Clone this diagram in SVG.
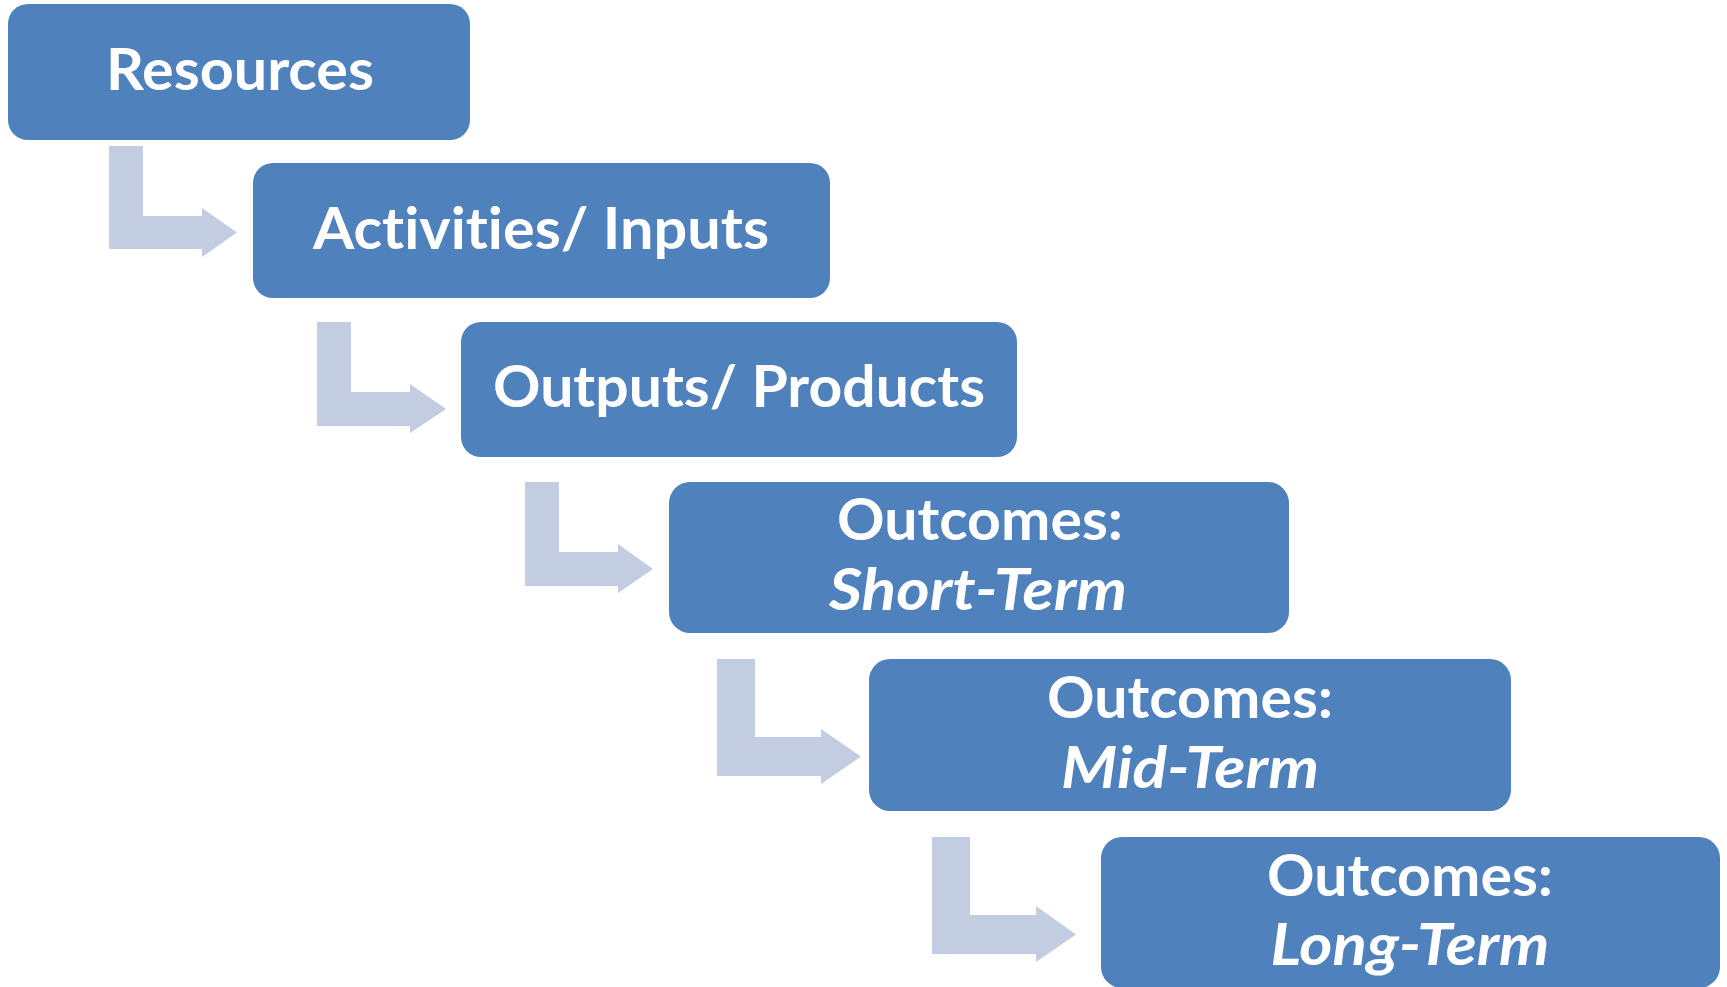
<svg xmlns="http://www.w3.org/2000/svg" width="1727" height="987" viewBox="0 0 1727 987">
<style>
.box{fill:#4F81BD;}
.arrow{fill:#C3CDE1;}
.t{font-family:Lato,"Open Sans","Liberation Sans",sans-serif;font-weight:bold;font-size:57px;fill:#FFFFFF;text-anchor:middle;font-variant-ligatures:none;font-feature-settings:"liga" 0,"clig" 0;}
.i{font-style:italic;}
</style>
<rect width="1727" height="987" fill="#FFFFFF"/>
<g id="connectors">
<polygon class="arrow" points="109,146 143,146 143,216 202,216 202,208 237,232.5 202,257 202,249 109,249"/>
<polygon class="arrow" points="317,322 351,322 351,392 410,392 410,384 446,409 410,433 410,426 317,426"/>
<polygon class="arrow" points="525,482 559,482 559,552 618,552 618,544 653,569 618,593 618,586 525,586"/>
<polygon class="arrow" points="717,659 755,659 755,737 821,737 821,729 861,756.5 821,784 821,776 717,776"/>
<polygon class="arrow" points="932,837 970,837 970,915 1036,915 1036,906 1076,934.5 1036,962 1036,954 932,954"/>
</g>
<g id="resources">
<rect class="box" x="8" y="4" width="462" height="136" rx="20"/>
<text class="t" x="240" y="90" textLength="268" lengthAdjust="spacingAndGlyphs">Resources</text>
</g>
<g id="activities">
<rect class="box" x="253" y="163" width="577" height="135" rx="20"/>
<text class="t" x="541" y="249" textLength="456" lengthAdjust="spacingAndGlyphs">Activities/ Inputs</text>
</g>
<g id="outputs">
<rect class="box" x="461" y="322" width="556" height="135" rx="20"/>
<text class="t" x="739" y="407" textLength="492" lengthAdjust="spacingAndGlyphs">Outputs/ Products</text>
</g>
<g id="short-term">
<rect class="box" x="669" y="482" width="620" height="151" rx="21"/>
<text class="t" x="980" y="540" textLength="286" lengthAdjust="spacingAndGlyphs">Outcomes:</text>
<text class="t i" x="978" y="610" textLength="298" lengthAdjust="spacingAndGlyphs">Short-Term</text>
</g>
<g id="mid-term">
<rect class="box" x="869" y="659" width="642" height="152" rx="21"/>
<text class="t" x="1190" y="718" textLength="286" lengthAdjust="spacingAndGlyphs">Outcomes:</text>
<text class="t i" x="1190" y="788" textLength="258" lengthAdjust="spacingAndGlyphs">Mid-Term</text>
</g>
<g id="long-term">
<rect class="box" x="1101" y="837" width="619" height="151" rx="21"/>
<text class="t" x="1410" y="896" textLength="286" lengthAdjust="spacingAndGlyphs">Outcomes:</text>
<text class="t i" x="1410" y="965" textLength="279" lengthAdjust="spacingAndGlyphs">Long-Term</text>
</g>
</svg>
